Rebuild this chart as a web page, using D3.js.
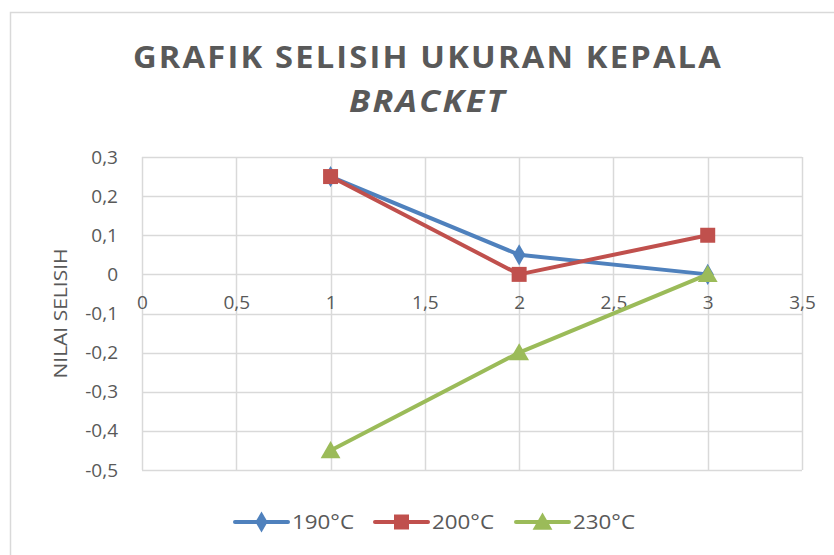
<!DOCTYPE html>
<html>
<head>
<meta charset="utf-8">
<script src="https://cdn.jsdelivr.net/npm/d3@7"></script>
<style>
  html, body { margin: 0; padding: 0; background: #ffffff; }
  svg { display: block; }
  text { font-family: "Open Sans", "Noto Sans", sans-serif; fill: #595959; }
</style>
</head>
<body>
<svg id="chart" width="834" height="555"></svg>
<script>
// Series data: difference in bracket head size per trial
const xValues = [1, 2, 3];
const series190 = [0.25, 0.05, 0];
const series200 = [0.25, 0, 0.1];
const series230 = [-0.45, -0.2, 0];
const seriesNames = ["190°C", "200°C", "230°C"];
const seriesColors = ["#4f81bd", "#c0504d", "#9bbb59"];
const markerShapes = ["diamond", "square", "triangle"];

const xTicks = [0, 0.5, 1, 1.5, 2, 2.5, 3, 3.5];
const yTicks = [0.3, 0.2, 0.1, 0, -0.1, -0.2, -0.3, -0.4, -0.5];

const titleLine1 = "GRAFIK SELISIH UKURAN KEPALA";
const titleLine2 = "BRACKET";
const yAxisTitle = "NILAI SELISIH";

const svg = d3.select("#chart");
const fmt = v => String(+v.toFixed(2)).replace(".", ",");

// Chart frame (left and top edges)
svg.append("path")
  .attr("d", "M10.5,555 V12.5 H834")
  .attr("fill", "none")
  .attr("stroke", "#d9d9d9")
  .attr("stroke-width", 1.5);

const plot = { left: 142, right: 802, top: 157, bottom: 470 };
const x = d3.scaleLinear().domain([0, 3.5]).range([plot.left, plot.right]);
const y = d3.scaleLinear().domain([-0.5, 0.3]).range([plot.bottom, plot.top]);

// Grid
const grid = svg.append("g");
grid.selectAll("line.h").data(yTicks).join("line")
  .attr("x1", plot.left).attr("x2", plot.right)
  .attr("y1", d => Math.round(y(d)) + 0.5).attr("y2", d => Math.round(y(d)) + 0.5)
  .attr("stroke", "#d9d9d9").attr("stroke-width", 1.5);
grid.selectAll("line.v").data(xTicks).join("line")
  .attr("y1", plot.top).attr("y2", plot.bottom)
  .attr("x1", d => Math.round(x(d)) + 0.5).attr("x2", d => Math.round(x(d)) + 0.5)
  .attr("stroke", "#d9d9d9").attr("stroke-width", 1.5);

// Y axis tick labels
const yAxis = d3.axisLeft(y).tickValues(yTicks).tickSize(0).tickPadding(0).tickFormat(fmt);
svg.append("g").attr("transform", `translate(118,0)`).call(yAxis)
  .call(g => g.select(".domain").remove())
  .selectAll("text")
  .attr("font-size", 19).attr("fill", "#595959")
  .attr("font-family", "'Open Sans', sans-serif");

// X axis tick labels (axis crosses at y = 0, labels sit below it)
const xAxis = d3.axisBottom(x).tickValues(xTicks).tickSize(0).tickPadding(0).tickFormat(fmt);
svg.append("g").attr("transform", `translate(0,${y(0) + 21})`).call(xAxis)
  .call(g => g.select(".domain").remove())
  .selectAll("text")
  .attr("font-size", 19).attr("fill", "#595959")
  .attr("font-family", "'Open Sans', sans-serif");

// Y axis title
svg.append("text")
  .attr("transform", `translate(67,${(plot.top + plot.bottom) / 2}) rotate(-90)`)
  .attr("text-anchor", "middle")
  .attr("font-size", 19)
  .attr("textLength", 130).attr("lengthAdjust", "spacingAndGlyphs")
  .text(yAxisTitle);

// Title
svg.append("text")
  .attr("x", 428).attr("y", 68)
  .attr("text-anchor", "middle")
  .attr("font-size", 30).attr("font-weight", "bold")
  .attr("textLength", 590).attr("lengthAdjust", "spacingAndGlyphs")
  .attr("letter-spacing", 2)
  .text(titleLine1);
svg.append("text")
  .attr("x", 428).attr("y", 112)
  .attr("text-anchor", "middle")
  .attr("font-size", 30).attr("font-weight", "bold").attr("font-style", "italic")
  .attr("textLength", 158).attr("lengthAdjust", "spacingAndGlyphs")
  .attr("letter-spacing", 2)
  .text(titleLine2);

// Marker symbols
function markerPath(shape) {
  if (shape === "diamond") return d3.symbol(d3.symbolDiamond, 130)();
  if (shape === "square") return d3.symbol(d3.symbolSquare, 225)();
  return d3.symbol(d3.symbolTriangle, 170)();
}

const allSeries = [series190, series200, series230];
const line = d3.line().x((d, i) => x(xValues[i])).y(d => y(d));

allSeries.forEach((vals, si) => {
  const g = svg.append("g");
  g.append("path")
    .attr("d", line(vals))
    .attr("fill", "none")
    .attr("stroke", seriesColors[si])
    .attr("stroke-width", 4)
    .attr("stroke-linejoin", "round")
    .attr("stroke-linecap", "round");
  g.selectAll("path.m").data(vals).join("path")
    .attr("class", "m")
    .attr("transform", (d, i) => `translate(${x(xValues[i])},${y(d) + (markerShapes[si] === "triangle" ? 2 : 0)})`)
    .attr("d", markerPath(markerShapes[si]))
    .attr("fill", seriesColors[si]);
});

// Legend
const legendX = [235, 375, 516];
const legendY = 522;
seriesNames.forEach((name, si) => {
  const g = svg.append("g").attr("transform", `translate(${legendX[si]},${legendY})`);
  g.append("line").attr("x1", 0).attr("x2", 53).attr("y1", 0).attr("y2", 0)
    .attr("stroke", seriesColors[si]).attr("stroke-width", 4).attr("stroke-linecap", "round");
  g.append("path")
    .attr("transform", `translate(26.5,${markerShapes[si] === "triangle" ? 2 : 0})`)
    .attr("d", markerPath(markerShapes[si]))
    .attr("fill", seriesColors[si]);
  g.append("text").attr("x", 57).attr("y", 0).attr("dy", "0.35em")
    .attr("font-size", 20).attr("textLength", 62).attr("lengthAdjust", "spacingAndGlyphs")
    .text(name);
});
</script>
</body>
</html>
